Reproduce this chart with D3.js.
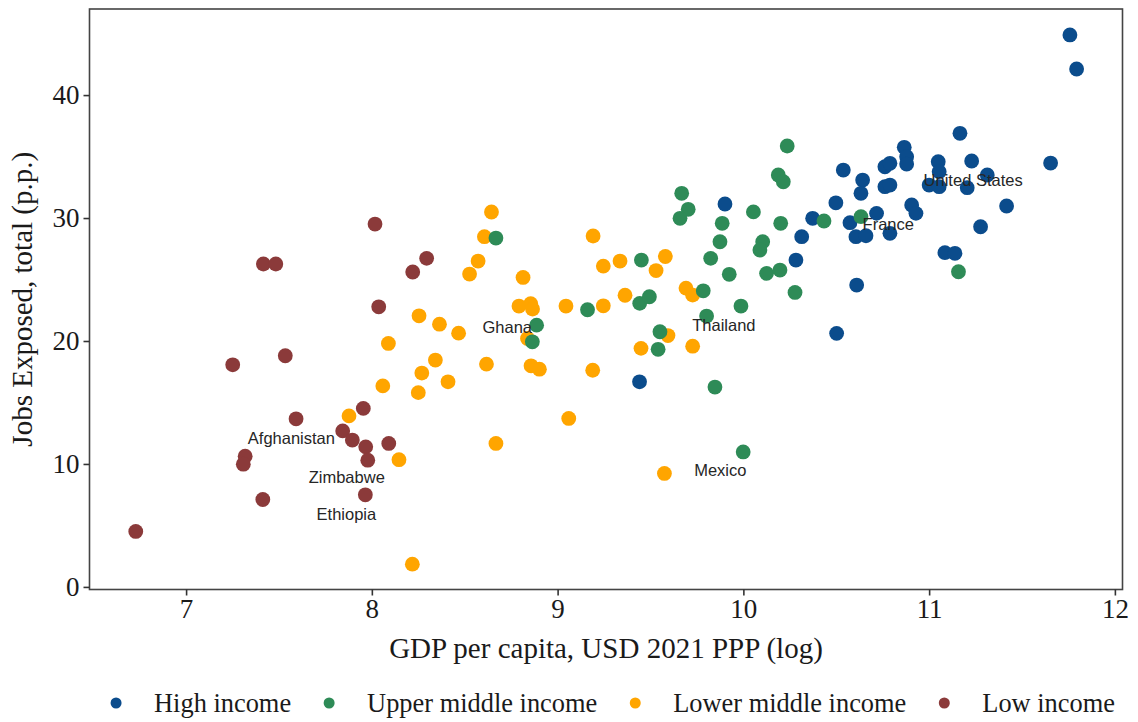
<!DOCTYPE html>
<html>
<head>
<meta charset="utf-8">
<script src="https://cdn.jsdelivr.net/npm/d3@7"></script>
<style>
  html, body { margin: 0; padding: 0; background: #fff; }
  svg { display: block; }
</style>
</head>
<body>
<svg id="chart" width="1138" height="722"></svg>
<script>
// Income groups, legend order and colours
const groups = ["High income", "Upper middle income", "Lower middle income", "Low income"];
const groupColors = ["#0b4c8c", "#2e8b57", "#ffa500", "#8b3a3a"];

// [log GDP per capita, jobs exposed (p.p.)] per country, by income group
const highIncome = [
  [9.441, 16.68], [9.901, 31.14], [10.283, 26.58], [10.314, 28.48], [10.373, 29.98],
  [10.498, 31.24], [10.538, 33.90], [10.642, 33.09], [10.633, 32.01], [10.574, 29.62],
  [10.717, 30.38], [10.606, 28.48], [10.660, 28.56], [10.789, 28.76], [10.762, 34.17],
  [10.789, 34.45], [10.762, 32.55], [10.789, 32.68], [10.866, 35.75], [10.879, 34.99],
  [10.879, 34.39], [10.906, 31.06], [10.929, 30.38], [11.049, 34.58], [11.054, 33.77],
  [11.000, 32.68], [11.054, 32.55], [11.166, 36.89], [11.229, 34.64], [11.205, 32.47],
  [11.313, 33.50], [11.417, 30.98], [11.277, 29.29], [11.085, 27.18], [11.139, 27.13],
  [10.610, 24.55], [10.502, 20.62], [11.654, 34.47], [11.758, 44.89], [11.794, 42.12]
];
const upperMiddleIncome = [
  [8.668, 28.37], [8.887, 21.29], [8.864, 19.93], [9.161, 22.54], [9.451, 26.58],
  [9.442, 23.06], [9.494, 23.60], [9.784, 24.08], [9.802, 22.03], [9.551, 20.75],
  [9.541, 19.32], [9.847, 16.25], [9.999, 10.98], [9.668, 32.01], [9.703, 30.71],
  [9.659, 29.98], [9.886, 29.57], [9.874, 28.07], [9.824, 26.72], [9.924, 25.42],
  [9.987, 22.84], [10.054, 30.50], [10.201, 29.57], [10.104, 28.07], [10.089, 27.40],
  [10.125, 25.50], [10.197, 25.77], [10.278, 23.95], [10.236, 35.86], [10.188, 33.50],
  [10.215, 32.95], [10.434, 29.76], [10.633, 30.11], [11.158, 25.63]
];
const lowerMiddleIncome = [
  [8.254, 22.05], [8.089, 19.80], [8.269, 17.39], [8.059, 16.35], [8.250, 15.80],
  [7.877, 13.91], [8.146, 10.35], [8.644, 30.49], [8.606, 28.48], [8.572, 26.50],
  [8.526, 25.44], [8.814, 25.17], [9.191, 28.54], [9.246, 26.09], [9.336, 26.50],
  [9.580, 26.87], [9.530, 25.73], [9.363, 23.72], [9.246, 22.86], [8.792, 22.84],
  [8.855, 23.04], [8.865, 22.60], [9.045, 22.84], [9.691, 24.30], [9.727, 23.73],
  [8.364, 21.37], [8.467, 20.64], [8.838, 20.21], [9.594, 20.44], [9.449, 19.40],
  [9.727, 19.58], [8.342, 18.45], [8.410, 16.68], [8.617, 18.12], [8.857, 17.98],
  [8.902, 17.71], [9.189, 17.62], [9.060, 13.70], [8.668, 11.67], [8.218, 1.85],
  [9.575, 9.23]
];
const lowIncome = [
  [8.017, 29.51], [7.416, 26.26], [7.483, 26.26], [8.295, 26.72], [8.220, 25.61],
  [8.037, 22.78], [7.534, 18.80], [7.251, 18.06], [7.954, 14.52], [7.592, 13.67],
  [7.843, 12.69], [7.895, 11.94], [7.967, 11.39], [8.091, 11.67], [7.978, 10.31],
  [7.318, 10.63], [7.308, 9.98], [7.413, 7.11], [7.965, 7.49], [6.729, 4.51]
];

// Country annotations: [name, x, y]
const countryLabels = [
  ["Afghanistan", 7.567, 12.12],
  ["Zimbabwe", 7.865, 8.90],
  ["Ethiopia", 7.863, 5.97],
  ["Ghana", 8.729, 21.16],
  ["Thailand", 9.895, 21.29],
  ["Mexico", 9.876, 9.50],
  ["France", 10.780, 29.51],
  ["United States", 11.237, 33.09]
];

const xTicks = [7, 8, 9, 10, 11, 12];
const yTicks = [0, 10, 20, 30, 40];
const xTitle = "GDP per capita, USD 2021 PPP (log)";
const yTitle = "Jobs Exposed, total (p.p.)";

const seriesByGroup = [highIncome, upperMiddleIncome, lowerMiddleIncome, lowIncome];
// draw order: high, low, lower middle, upper middle
const drawOrder = [0, 3, 2, 1];

const svg = d3.select("#chart");
const panel = { left: 89.5, right: 1122.5, top: 9, bottom: 589.5 };
const serif = "'Liberation Serif', 'DejaVu Serif', serif";
const sans = "'Liberation Sans', Arial, sans-serif";

const x = d3.scaleLinear().domain([6.48, 12.041]).range([panel.left, panel.right]);
const y = d3.scaleLinear().domain([-0.21, 47.0]).range([panel.bottom, panel.top]);
const color = d3.scaleOrdinal().domain(groups).range(groupColors);

// points
const pts = svg.append("g");
drawOrder.forEach(gi => {
  pts.append("g")
    .selectAll("circle")
    .data(seriesByGroup[gi])
    .join("circle")
    .attr("cx", d => x(d[0]))
    .attr("cy", d => y(d[1]))
    .attr("r", 7.4)
    .attr("fill", color(groups[gi]));
});

// country labels
svg.append("g")
  .selectAll("text")
  .data(countryLabels)
  .join("text")
  .attr("x", d => x(d[1]))
  .attr("y", d => y(d[2]))
  .attr("text-anchor", "middle")
  .attr("dominant-baseline", "central")
  .attr("font-family", sans)
  .attr("font-size", 16.5)
  .attr("fill", "#262626")
  .text(d => d[0]);

// panel border
svg.append("rect")
  .attr("x", panel.left).attr("y", panel.top)
  .attr("width", panel.right - panel.left)
  .attr("height", panel.bottom - panel.top)
  .attr("fill", "none")
  .attr("stroke", "#444")
  .attr("stroke-width", 1.6);

// axes
const xAxis = svg.append("g")
  .attr("transform", `translate(0,${panel.bottom})`)
  .call(d3.axisBottom(x).tickValues(xTicks).tickSize(6).tickPadding(3).tickFormat(d3.format("d")));
const yAxis = svg.append("g")
  .attr("transform", `translate(${panel.left},0)`)
  .call(d3.axisLeft(y).tickValues(yTicks).tickSize(6).tickPadding(4).tickFormat(d3.format("d")));
[xAxis, yAxis].forEach(a => {
  a.select(".domain").remove();
  a.selectAll(".tick line").attr("stroke", "#333").attr("stroke-width", 1.6);
  a.selectAll(".tick text")
    .attr("font-family", serif)
    .attr("font-size", 27)
    .attr("fill", "#1a1a1a");
});

// axis titles
svg.append("text")
  .attr("x", (panel.left + panel.right) / 2)
  .attr("y", 658)
  .attr("text-anchor", "middle")
  .attr("font-family", serif)
  .attr("font-size", 29)
  .attr("fill", "#1a1a1a")
  .text(xTitle);

svg.append("text")
  .attr("transform", `translate(32,${(panel.top + panel.bottom) / 2}) rotate(-90)`)
  .attr("text-anchor", "middle")
  .attr("font-family", serif)
  .attr("font-size", 29)
  .attr("fill", "#1a1a1a")
  .text(yTitle);

// legend
const legend = svg.append("g");
const items = legend.selectAll("g").data(groups).join("g");
const keyGap = 38, itemGap = 38;
items.append("circle").attr("r", 5.5).attr("fill", d => color(d));
items.append("text")
  .attr("x", keyGap)
  .attr("dominant-baseline", "central")
  .attr("font-family", serif)
  .attr("font-size", 26.4)
  .attr("fill", "#1a1a1a")
  .text(d => d);
let offset = 0;
const positions = [];
items.each(function () {
  const w = d3.select(this).select("text").node().getComputedTextLength() + keyGap;
  positions.push(offset);
  offset += w + itemGap;
});
const total = offset - itemGap;
const startX = 615.5 - total / 2;
items.attr("transform", (d, i) => `translate(${startX + positions[i]},703)`);
</script>
</body>
</html>
